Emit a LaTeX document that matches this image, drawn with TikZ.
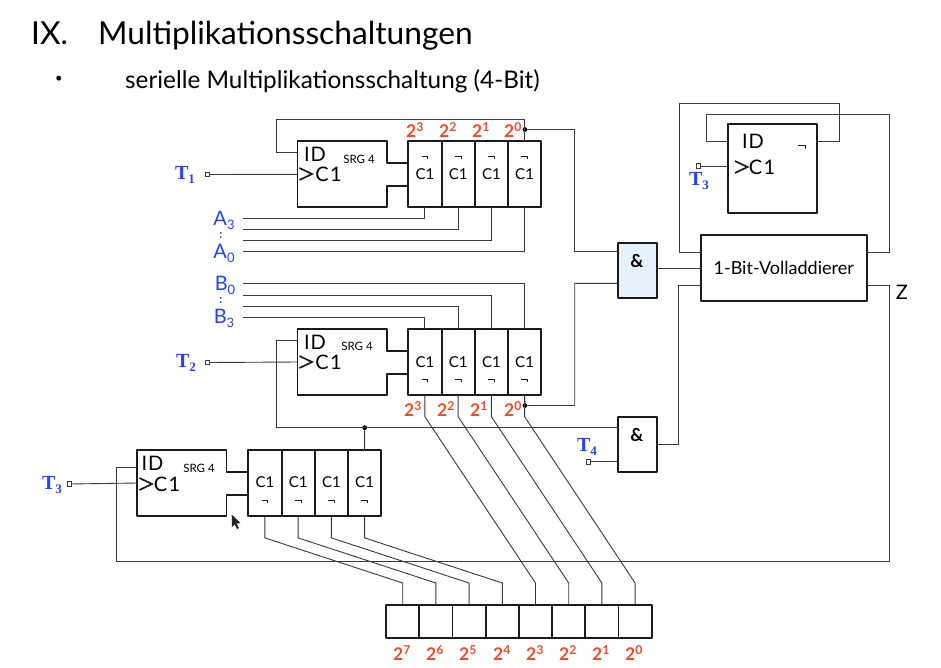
\documentclass[tikz,border=0pt]{standalone}
\usepackage{fontspec}
\setmainfont{Lato}
\newfontfamily\tfont{Liberation Serif}[BoldFont={Liberation Serif Bold}]
\definecolor{wirec}{HTML}{3A3A3A}
\definecolor{boxc}{HTML}{1A1A1A}
\definecolor{redl}{HTML}{E8502F}
\definecolor{bluel}{HTML}{2444EE}
\definecolor{gatefill}{HTML}{E6F2FB}
\newcommand{\fs}[1]{\fontsize{#1}{#1}\selectfont}
\newcommand{\lowered}[2]{\raisebox{-.2em}{\fs{#1}#2}}
\newcommand{\tlabel}[1]{{\tfont\bfseries\fs{20}T\lowered{13}{#1}}}
\newcommand{\idtxt}{I\kern1pt D}
\newcommand{\cltxt}{C\kern1.5pt 1}
\tikzset{
  wire/.style={draw=wirec,line width=0.9pt},
  boxline/.style={draw=boxc,line width=1.9pt,line join=round},
  cell/.style={boxline,minimum width=33.2pt,minimum height=66pt,inner sep=0pt,outer sep=0pt},
  outcell/.style={boxline,minimum width=33.2pt,minimum height=33pt,inner sep=0pt,outer sep=0pt},
  gate/.style={boxline,minimum width=39pt,inner sep=0pt,outer sep=0pt},
  term/.style={draw=wirec,fill=white,line width=0.8pt,minimum size=4.5pt,inner sep=0pt,outer sep=0pt},
  dotj/.style={circle,fill=black,minimum size=4.8pt,inner sep=0pt,outer sep=0pt},
  redt/.style={text=redl,font=\fs{17.5}\bfseries,inner sep=0pt},
  bluet/.style={text=bluel,font=\fs{20},inner sep=0pt},
  marktxt/.style={text=black,font=\fs{20},inner sep=0pt},
  smalltxt/.style={inner sep=0pt,font=\fs{11.5}},
  celltxt/.style={inner sep=0pt,font=\fs{15}},
  gatetxt/.style={inner sep=0pt,font=\fs{18}\bfseries},
  ticks/.style={draw=boxc,line width=1pt},
  clockmark/.style={draw=boxc,line width=1.7pt,line join=miter},
}
% register body: name, left x, top y, y offset of the data input
\newcommand{\regbody}[4]{%
  \begin{scope}[shift={(#2,#3)}]
    \draw[boxline] (110.8,45) -- (89.2,45) -- (89.2,66) -- (0,66) -- (0,0) -- (89.2,0) -- (89.2,22) -- (110.8,22);
    \coordinate (#1id) at (0,#4);
    \coordinate (#1clk) at (0,33);
  \end{scope}}
% four cells: name, left x, centre y, tick y
\newcommand{\regcells}[4]{%
  \foreach \i/\dx in {1/0,2/33.25,3/66.5,4/99.75}{
    \node[cell] (#1c\i) at ({#2+16.6+\dx},{#3}) {};
    \draw[ticks] ({#2+13.4+\dx},#4) -- ++(6.2,0) -- ++(0,3);
  }}
% clock marker: left x, centre y
\newcommand{\clockat}[2]{\draw[clockmark] (#1,#2-6) -- (#1+12.5,#2) -- (#1,#2+6);}
\begin{document}
\begin{tikzpicture}[x=1pt,y=-1pt]
\useasboundingbox[fill=white] (0,0) rectangle (941,667);

% headings
\node[anchor=base west,inner sep=0pt,font=\fs{31.7}] (h1a) at (31,44) {IX.};
\node[anchor=base west,inner sep=0pt,font=\fs{31.7}] (h1b) at (98,44) {Multiplikationsschaltungen};
\node[inner sep=0pt,font=\fs{13}] (h2a) at (59,79) {•};
\node[anchor=base west,inner sep=0pt,font=\fs{24.3}] (h2b) at (125,88) {serielle Multiplikationsschaltung (4-Bit)};

% registers
\regbody{A}{297.5}{141.3}{11}
\regcells{A}{408.3}{174.3}{156}
\regbody{B}{297.5}{329}{11}
\regcells{B}{408.3}{362}{379}
\regbody{P}{137.3}{450}{17}
\regcells{P}{248.3}{483.3}{500}

% register inscriptions
\node[marktxt] (AidT) at (315,154) {\idtxt};
\clockat{299.5}{174}
\node[marktxt] (AcT) at (328.5,174) {\cltxt};
\node[smalltxt] (AsT) at (359,159) {SRG 4};
\node[marktxt] (BidT) at (315,342) {\idtxt};
\clockat{299.5}{362}
\node[marktxt] (BcT) at (328.5,362) {\cltxt};
\node[smalltxt] (BsT) at (357,346) {SRG 4};
\node[marktxt] (PidT) at (152.5,463) {\idtxt};
\clockat{139.5}{484}
\node[marktxt] (PcT) at (167,484) {\cltxt};
\node[smalltxt] (PsT) at (199,468) {SRG 4};
\foreach \i/\x in {1/424.9,2/458.2,3/491.4,4/524.6}{
  \node[celltxt] (Al\i) at (\x,174) {C1};
  \node[celltxt] (Bl\i) at (\x,362) {C1};
}
\foreach \i/\x in {1/264.9,2/298.2,3/331.4,4/364.6}{
  \node[celltxt] (Pl\i) at (\x,482) {C1};
}

% output register
\foreach \i/\x in {7/402.7,6/435.9,5/469.1,4/502.3,3/535.5,2/568.7,1/601.9,0/635.1}{
  \node[outcell] (R\i) at (\x,621.7) {};
}

% gates, adder, flip-flop
\node[gate,fill=gatefill,minimum height=55.6pt] (G1) at (637.8,270.5) {};
\node[gatetxt] (G1t) at (637,261) {\&};
\node[gate,minimum height=55.6pt] (G2) at (637.8,444.5) {};
\node[gatetxt] (G2t) at (637,435) {\&};
\node[boxline,minimum width=166pt,minimum height=66pt,inner sep=0pt,outer sep=0pt,font=\fs{18}] (FA) at (783.7,268) {1-Bit-Volladdierer};
\node[boxline,minimum width=88.7pt,minimum height=88.7pt,inner sep=0pt,outer sep=0pt] (FF) at (772.3,168.3) {};
\node[marktxt] (FFid) at (753,141) {\idtxt};
\clockat{735}{167}
\node[marktxt] (FFc) at (762,167) {\cltxt};
\draw[ticks] (798,145) -- ++(7,0) -- ++(0,4);

% terminals and input labels
\node[term] (T1s) at (207.5,174.5) {};
\node[bluet] (T1t) at (185,175) {\tlabel{1}};
\node[term] (T2s) at (207.5,362.5) {};
\node[bluet] (T2t) at (186,363) {\tlabel{2}};
\node[term] (T3s) at (69.3,484) {};
\node[bluet] (T3t) at (52,485) {\tlabel{3}};
\node[term] (T3f) at (698.5,166) {};
\node[bluet] (T3u) at (699,181) {\tlabel{3}};
\node[term] (T4s) at (588.3,461.7) {};
\node[bluet] (T4t) at (587,447) {\tlabel{4}};
\node[bluet] (LA3) at (224,220) {A\lowered{13}{3}};
\node[bluet,font=\fs{12}\bfseries] (LAc) at (221,235.5) {:};
\node[bluet] (LA0) at (224,253) {A\lowered{13}{0}};
\node[bluet] (LB0) at (225,285) {B\lowered{13}{0}};
\node[bluet,font=\fs{12}\bfseries] (LBc) at (221,301) {:};
\node[bluet] (LB3) at (224,318) {B\lowered{13}{3}};
\node[inner sep=0pt,font=\fs{20}] (Z) at (902,292) {Z};

% weight labels
\foreach \i/\n/\x in {1/3/415,2/2/448,3/1/481,4/0/513}{
  \node[redt] (wa\i) at (\x,130) {2\textsuperscript{\n}};
}
\foreach \i/\n/\x in {1/3/413,2/2/446,3/1/479,4/0/513}{
  \node[redt] (wb\i) at (\x,409) {2\textsuperscript{\n}};
}
\foreach \n/\x in {7/402,6/435,5/468,4/502,3/535,2/568,1/601,0/634}{
  \node[redt] (wr\n) at (\x,653) {2\textsuperscript{\n}};
}

% free wire ends
\foreach \n/\y in {a1/218.3,a2/229.3,a3/240.3,a4/251.7,b4/283.3,b3/295,b2/306,b1/317.7}{
  \coordinate (\n) at (243,\y);
}
\coordinate (jA) at (524.9,129.5);
\coordinate (jB) at (524.9,405.5);
\node[dotj] (dA) at (jA) {};
\node[dotj] (dB) at (jB) {};
\node[dotj] (dC) at (364.7,427.7) {};

% input wires to registers
\foreach \i in {1,2,3,4}{
  \draw[wire] (a\i) -| (Ac\i.south);
}
\draw[wire] (b4) -| (Bc4.north);
\draw[wire] (b3) -| (Bc3.north);
\draw[wire] (b2) -| (Bc2.north);
\draw[wire] (b1) -| (Bc1.north);
\draw[wire] (T1s) -- (Aclk);
\draw[wire] (T2s) -- (Bclk);
\draw[wire] (T3s) -- (Pclk);
\draw[wire] (T3f) -- (FF.west |- T3f);
\draw[wire] (T4s) -- (G2.west |- T4s);

% register A: rotate feedback, output to gate 1
\coordinate (aTop) at (276.7,119);
\draw[wire] (Ac4.north) -- (Ac4.north |- aTop) -- (aTop) |- (Aid);
\draw[wire] (dA) -- (574.7,129.5) |- (G1.west |- 0,251.7);

% register B: output to gate 1, feedback to gate 2 and to register P
\draw[wire] (Bc4.south) -- (dB) -- (574.7,405.5) |- (G1.west |- 0,283.3);
\draw[wire] (Bid) -- (276.7,340) |- (G2.west |- 0,427.7);
\draw[wire] (dC) -- (Pc4.north);

% diagonal wires to the output register
\foreach \i/\n in {1/3,2/2,3/1,4/0}{
  \draw[wire] (Bc\i.south) -- ++(0,21.7) -- (R\n.north |- 0,583) -- (R\n.north);
}
\foreach \i/\n in {1/7,2/6,3/5,4/4}{
  \draw[wire] (Pc\i.south) -- ++(0,21.6) -- (R\n.north |- 0,583) -- (R\n.north);
}

% adder and flip-flop wiring
\draw[wire] (G1.east |- FA.west) -- (FA.west);
\draw[wire] (FA.west |- 0,252.3) -- (679.3,252.3) -- (679.3,103.3) -- (839.3,103.3) -- (839.3,141.7) -- (FF.east |- 0,141.7);
\draw[wire] (FA.east |- 0,252.3) -- (889.3,252.3) -- (889.3,114) -- (706.7,114) -- (706.7,141.7) -- (FF.west |- 0,141.7);
\draw[wire] (G2.east) -- (678.3,444.5) -- (678.3,285) -- (FA.west |- 0,285);
\draw[wire] (FA.east |- 0,285) -- (889.3,285) -- (889.3,561) -- (116,561) -- (116,467) -- (Pid);

% mouse pointer
\fill[black!85] (231.7,514.5) -- (232,527) -- (234.8,524.4) -- (237,529) -- (239,528) -- (236.8,523.6) -- (240.5,523) -- cycle;
\end{tikzpicture}
\end{document}
